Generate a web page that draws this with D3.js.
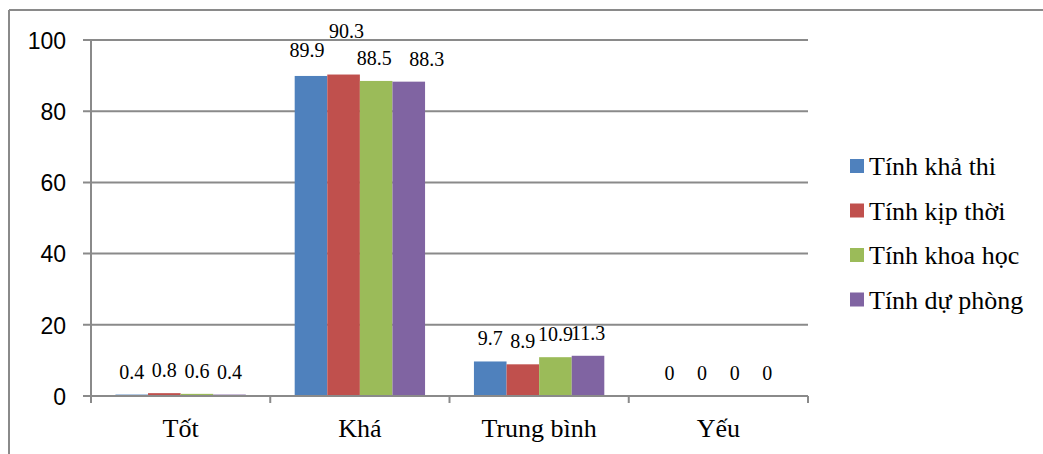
<!DOCTYPE html>
<html>
<head>
<meta charset="utf-8">
<script src="https://cdn.jsdelivr.net/npm/d3@7"></script>
<style>
  html, body { margin: 0; padding: 0; background: #fff; }
  svg { display: block; }
</style>
</head>
<body>
<svg id="chart" width="1043" height="454"></svg>
<script>
// Rating levels on the x axis
const categories = ["Tốt", "Khá", "Trung bình", "Yếu"];
// Evaluated criteria (one bar per criterion in each level)
const seriesNames = ["Tính khả thi", "Tính kịp thời", "Tính khoa học", "Tính dự phòng"];
// Percentages per criterion, in the order of categories
const khaThi   = [0.4, 89.9, 9.7, 0];
const kipThoi  = [0.8, 90.3, 8.9, 0];
const khoaHoc  = [0.6, 88.5, 10.9, 0];
const duPhong  = [0.4, 88.3, 11.3, 0];
const yTicks   = [0, 20, 40, 60, 80, 100];

const seriesValues = [khaThi, kipThoi, khoaHoc, duPhong];
const colors = ["#4F81BD", "#C0504D", "#9BBB59", "#8064A2"];

const SERIF = '"Liberation Serif"';
const SANS = '"Liberation Sans"';

const svg = d3.select("#chart");
const plot = { left: 91, right: 808, top: 40, bottom: 396 };
const gridColor = "#8a8a8a";

// Chart frame
svg.append("line").attr("x1", 9).attr("x2", 1043).attr("y1", 10).attr("y2", 10)
  .attr("stroke", gridColor).attr("stroke-width", 2);
svg.append("line").attr("x1", 9).attr("x2", 9).attr("y1", 10).attr("y2", 454)
  .attr("stroke", gridColor).attr("stroke-width", 2);

const x = d3.scaleBand().domain(categories).range([plot.left, plot.right]);
// Bars take 4 of 5.5 bar-widths in each band (gap of 1.5 bars)
const groupPad = 1.5 / 5.5;
const inner = d3.scaleBand().domain(seriesNames)
  .range([x.bandwidth() * groupPad / 2, x.bandwidth() * (1 - groupPad / 2)]);

const y = d3.scaleLinear().domain([0, 100]).range([plot.bottom, plot.top]);

// Y tick labels
const gy = svg.append("g").attr("transform", `translate(${plot.left - 8},0)`);
gy.call(d3.axisLeft(y).tickValues(yTicks).tickSize(0).tickPadding(17));
gy.select(".domain").remove();
gy.attr("font-family", null).attr("font-size", null);
gy.selectAll(".tick text")
  .style("font-family", SANS).style("font-size", "23px")
  .attr("fill", "#000").attr("dy", "0.36em");

// Gridlines, including the small tick stub left of the axis
svg.append("g").selectAll("line").data(yTicks).join("line")
  .attr("x1", plot.left - 8).attr("x2", plot.right)
  .attr("y1", d => y(d)).attr("y2", d => y(d))
  .attr("stroke", gridColor).attr("stroke-width", 2);

// Y axis line
svg.append("line").attr("x1", plot.left).attr("x2", plot.left)
  .attr("y1", plot.top).attr("y2", plot.bottom)
  .attr("stroke", gridColor).attr("stroke-width", 2);

// Bars
const groups = svg.append("g").selectAll("g").data(categories).join("g")
  .attr("transform", d => `translate(${x(d)},0)`);
groups.selectAll("rect")
  .data((c, ci) => seriesNames.map((s, si) => ({ s, si, v: seriesValues[si][ci] })))
  .join("rect")
  .attr("x", d => inner(d.s))
  .attr("width", inner.bandwidth())
  .attr("y", d => y(d.v))
  .attr("height", d => y(0) - y(d.v))
  .attr("fill", d => colors[d.si]);

// X axis with category dividers
const xAxis = svg.append("g").attr("transform", `translate(0,${plot.bottom})`);
xAxis.append("line").attr("x1", plot.left).attr("x2", plot.right).attr("y1", 0).attr("y2", 0)
  .attr("stroke", gridColor).attr("stroke-width", 2);
const edges = categories.map(c => x(c)).concat([plot.right]);
xAxis.selectAll("line.div").data(edges).join("line").attr("class", "div")
  .attr("x1", d => d).attr("x2", d => d).attr("y1", 0).attr("y2", 7)
  .attr("stroke", gridColor).attr("stroke-width", 2);
xAxis.selectAll("text").data(categories).join("text")
  .attr("x", d => x(d) + x.bandwidth() / 2).attr("y", 41)
  .attr("text-anchor", "middle")
  .style("font-family", SERIF).style("font-size", "26px")
  .attr("fill", "#000")
  .text(d => d);

// Value labels; a few are moved aside where neighbours would collide
const labelShift = {
  "Khá|Tính khả thi": [-4, -3],
  "Khá|Tính kịp thời": [3, -21],
  "Khá|Tính khoa học": [-2, 0],
  "Khá|Tính dự phòng": [18, 0]
};
const shiftOf = d => labelShift[d.c + "|" + d.s] || [0, 0];
groups.selectAll("text")
  .data((c, ci) => seriesNames.map((s, si) => ({ c, s, si, v: seriesValues[si][ci] })))
  .join("text")
  .attr("x", d => inner(d.s) + inner.bandwidth() / 2 + shiftOf(d)[0])
  .attr("y", d => y(d.v) - 16 + shiftOf(d)[1])
  .attr("text-anchor", "middle")
  .style("font-family", SERIF).style("font-size", "20px")
  .attr("fill", "#000")
  .text(d => d.v);

// Legend
const legend = svg.append("g").attr("transform", "translate(850,0)");
const rows = legend.selectAll("g").data(seriesNames).join("g")
  .attr("transform", (d, i) => `translate(0,${175 + i * 44.5})`);
rows.append("rect").attr("x", 0).attr("y", -16).attr("width", 14).attr("height", 14)
  .attr("fill", (d, i) => colors[i]);
rows.append("text").attr("x", 19).attr("y", 0)
  .style("font-family", SERIF).style("font-size", "26px")
  .attr("fill", "#000")
  .text(d => d);
</script>
</body>
</html>
